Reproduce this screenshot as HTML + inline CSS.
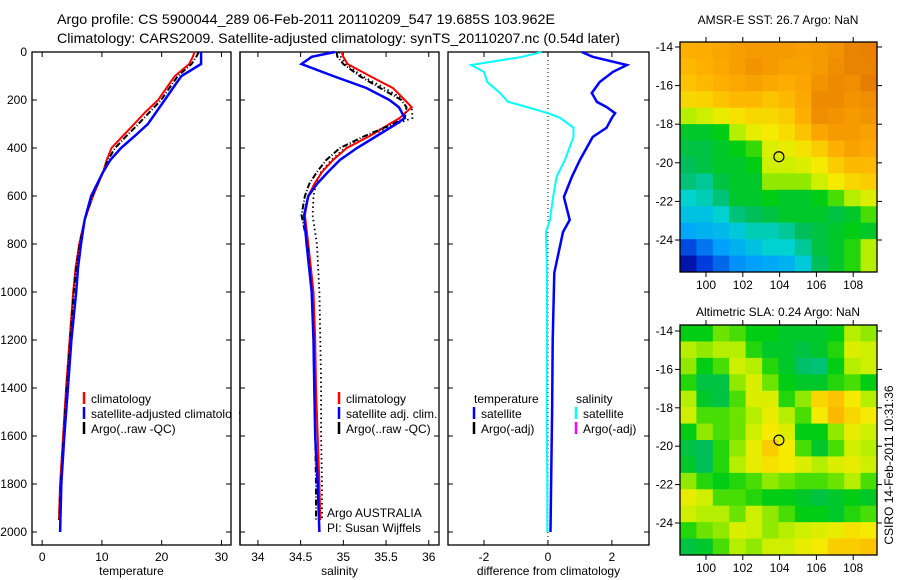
<!DOCTYPE html>
<html><head><meta charset="utf-8"><style>
html,body{margin:0;padding:0;background:#fff;}
svg{display:block;font-family:"Liberation Sans",sans-serif;}
</style></head><body>
<svg id="fig" width="900" height="580" viewBox="0 0 900 580" xmlns="http://www.w3.org/2000/svg">
<rect width="900" height="580" fill="#fff"/>
<text x="57" y="24" font-size="14" textLength="498" lengthAdjust="spacingAndGlyphs">Argo profile: CS 5900044_289 06-Feb-2011 20110209_547 19.685S 103.962E</text>
<text x="57" y="43" font-size="14" textLength="563" lengthAdjust="spacingAndGlyphs">Climatology: CARS2009. Satellite-adjusted climatology: synTS_20110207.nc (0.54d later)</text>
<text x="778" y="24" font-size="12" text-anchor="middle">AMSR-E SST: 26.7 Argo: NaN</text>
<text x="778" y="316" font-size="12" text-anchor="middle">Altimetric SLA: 0.24 Argo: NaN</text>
<text transform="translate(893,465) rotate(-90)" font-size="12" text-anchor="middle">CSIRO 14-Feb-2011 10:31:36</text>
<g id="g"></g>
</svg>
<script>
// ---- data ----
const depths = [0,20,50,100,150,200,250,300,350,400,450,500,600,700,800,900,1000,1200,1400,1600,1800,1950];
const tempClim = [25.5,25.2,24.6,22.2,20.8,19.4,17.3,15.4,13.5,11.6,10.8,10.2,8.5,7.1,6.2,5.6,5.2,4.6,4.0,3.5,3.0,2.8];
const satDepths = [0,20,50,100,150,200,250,300,350,400,450,500,600,700,800,900,1000,1200,1400,1600,1800,2000];
const tempSat  = [26.6,26.6,26.6,23.3,21.9,20.5,19.1,17.7,15.5,13.2,11.4,10.2,8.2,7.1,6.5,6.0,5.7,4.9,4.3,3.7,3.2,3.0];
const tempArgo = [26.2,25.8,25.0,22.7,21.3,19.9,18.0,16.1,14.1,12.2,11.0,10.2,8.4,7.1,6.3,5.7,5.3,4.7,4.1,3.6,3.1,2.9];
const salDepths = [0,20,50,100,150,200,230,275,300,350,400,450,500,550,600,680,800,1000,1200,1400,1600,1800,1950];
const salSatDepths = [0,20,50,100,150,200,230,275,300,350,400,450,500,550,600,680,800,1000,1200,1400,1600,1800,2000];
const salClim = [34.98,35.0,35.05,35.31,35.58,35.72,35.80,35.66,35.54,35.31,35.04,34.88,34.75,34.66,34.59,34.55,34.59,34.65,34.67,34.68,34.70,34.72,34.73];
const salSat  = [34.90,34.63,34.51,34.88,35.27,35.54,35.65,35.72,35.62,35.39,35.16,34.96,34.82,34.69,34.59,34.54,34.57,34.63,34.65,34.66,34.67,34.70,34.72];
const salArgo = [34.92,34.93,35.0,35.19,35.43,35.68,35.74,35.72,35.58,35.25,34.96,34.80,34.69,34.60,34.55,34.51,34.58,34.63,34.65,34.66,34.67,34.68,34.68];
const salDot  = [34.95,34.97,35.03,35.22,35.48,35.72,35.80,35.81,35.62,35.30,35.02,34.86,34.74,34.68,34.65,34.64,34.69,34.72,34.73,34.74,34.74,34.75,34.75];
const diffDepths = [0,20,54,83,125,171,208,229,255,274,316,354,450,520,604,700,750,920,1200,1500,1800,2000];
const diffTempSat = [1.06,1.4,2.47,2.03,1.62,1.37,1.53,1.83,2.1,2.0,1.83,1.4,1.0,0.75,0.5,0.68,0.47,0.2,0.15,0.13,0.1,0.08];
const diffSalSat  = [-0.2,-0.8,-2.4,-2.0,-1.9,-1.5,-1.25,-0.66,0,0.38,0.8,0.8,0.53,0.27,0.16,0.06,-0.06,-0.03,-0.03,-0.04,-0.02,-0.02];
const depthTicks = [0,200,400,600,800,1000,1200,1400,1600,1800,2000];
const tempTicks = [0,10,20,30];
const salTicks = [34,34.5,35,35.5,36];
const salTickLabels = ["34","34.5","35","35.5","36"];
const diffTicks = [-2,0,2];
const lonTicks = [100,102,104,106,108];
const latTicks = [-14,-16,-18,-20,-22,-24];
const argoLon = 103.962, argoLat = -19.685;
const sstGrid = [
[.82,.83,.85,.87,.88,.88,.88,.87,.88,.90,.95,.96],
[.80,.82,.84,.87,.90,.88,.86,.86,.88,.92,.95,.95],
[.78,.80,.82,.84,.86,.84,.83,.85,.90,.93,.92,.97],
[.74,.75,.78,.80,.80,.78,.80,.84,.93,.93,.90,.92],
[.62,.64,.68,.72,.74,.74,.76,.82,.92,.90,.88,.90],
[.50,.50,.52,.62,.68,.70,.73,.78,.85,.88,.88,.86],
[.48,.48,.50,.52,.55,.66,.68,.72,.76,.82,.86,.84],
[.46,.48,.50,.50,.52,.64,.64,.66,.70,.76,.80,.80],
[.44,.42,.48,.50,.50,.60,.60,.60,.64,.70,.74,.76],
[.38,.40,.44,.50,.50,.52,.50,.50,.52,.56,.62,.66],
[.34,.34,.38,.44,.46,.48,.50,.50,.50,.48,.50,.56],
[.28,.30,.32,.36,.40,.40,.42,.46,.48,.50,.52,.50],
[.14,.20,.26,.30,.34,.38,.38,.42,.48,.50,.54,.62],
[.04,.12,.18,.24,.26,.28,.30,.36,.46,.50,.54,.62]];
const slaGrid = [
[.52,.52,.58,.56,.52,.52,.50,.50,.50,.52,.62,.60],
[.62,.60,.62,.62,.54,.50,.50,.48,.50,.54,.66,.64],
[.60,.52,.56,.64,.62,.54,.50,.45,.44,.52,.62,.64],
[.54,.48,.48,.60,.66,.58,.52,.50,.50,.54,.56,.52],
[.62,.50,.48,.56,.66,.66,.54,.60,.74,.78,.70,.62],
[.64,.56,.56,.58,.62,.68,.62,.56,.70,.80,.74,.70],
[.52,.60,.56,.58,.64,.70,.66,.52,.52,.60,.68,.64],
[.48,.46,.54,.60,.68,.76,.70,.56,.50,.56,.64,.62],
[.50,.46,.54,.62,.68,.72,.70,.66,.62,.66,.68,.64],
[.60,.54,.52,.54,.56,.60,.58,.56,.56,.58,.62,.56],
[.68,.64,.56,.56,.54,.52,.52,.50,.48,.50,.52,.50],
[.64,.62,.62,.58,.64,.60,.56,.52,.52,.50,.54,.56],
[.54,.58,.60,.66,.64,.60,.62,.64,.66,.68,.72,.70],
[.48,.50,.56,.62,.60,.64,.64,.68,.70,.76,.76,.78]];

// ---- helpers ----
const NS="http://www.w3.org/2000/svg";
const G=document.getElementById('g');
function mk(tag,attrs,parent){const e=document.createElementNS(NS,tag);for(const k in attrs)e.setAttribute(k,attrs[k]);(parent||G).appendChild(e);return e;}
const TOP=52,BOT=545;
const yD=d=>TOP+d*0.24;
const panels=[
 {x0:32,x1:231,vmin:-1.7,vmax:31.6,name:'temperature'},
 {x0:240,x1:439,vmin:33.79,vmax:36.12,name:'salinity'},
 {x0:448,x1:649,vmin:-3.125,vmax:3.16,name:'difference'}];
function xf(p){return v=>p.x0+(v-p.vmin)/(p.vmax-p.vmin)*(p.x1-p.x0);}
function line(xs,ds,fx,color,w,dash,name){
  const pts=xs.map((v,i)=>fx(v).toFixed(1)+','+yD(ds[i]).toFixed(1)).join(' ');
  const e=mk('polyline',{points:pts,fill:'none',stroke:color,'stroke-width':w});
  if(dash)e.setAttribute('stroke-dasharray',dash);
  
  
}
function frame(p,ticks,labels,xlabel,i){
  const fx=xf(p);
  const r=mk('rect',{x:p.x0,y:TOP,width:p.x1-p.x0,height:BOT-TOP,fill:'#fff',stroke:'#000','stroke-width':1.3});
  
  
  ticks.forEach((t,k)=>{const x=fx(t);
    mk('line',{x1:x,x2:x,y1:BOT,y2:BOT-5,stroke:'#000'});
    mk('line',{x1:x,x2:x,y1:TOP,y2:TOP+5,stroke:'#000'});
    const tx=mk('text',{x:x,y:BOT+16,'font-size':12,'text-anchor':'middle'});tx.textContent=labels[k];
    
    
  });
  depthTicks.forEach(d=>{const y=yD(d);
    mk('line',{x1:p.x0,x2:p.x0+5,y1:y,y2:y,stroke:'#000'});
    mk('line',{x1:p.x1,x2:p.x1-5,y1:y,y2:y,stroke:'#000'});
    if(i===0){const t=mk('text',{x:27,y:y+4,'font-size':12,'text-anchor':'end'});t.textContent=d;
      
      }
  });
  const xl=mk('text',{x:(p.x0+p.x1)/2,y:575,'font-size':12,'text-anchor':'middle'});xl.textContent=xlabel;
  
  
  return fx;
}
function legend(entries,x,y){
  entries.forEach((en,k)=>{const yy=y+k*15;
    if(en.c){const b=mk('line',{x1:x,x2:x,y1:yy-6,y2:yy+6,stroke:en.c,'stroke-width':2.5});
      
      }
    const t=mk('text',{x:x+(en.c?7:0),y:yy+5,'font-size':12});t.textContent=en.t;
    
    
  });
}
// panel 1
let f=frame(panels[0],tempTicks,tempTicks.map(String),'temperature',0);
line(tempClim,depths,f,'#f00',2,null,'temp-climatology-line');
line(tempArgo,depths,f,'#000',2,'6,2,1,2','temp-argo-line');
line(tempSat,satDepths,f,'#00f',2.5,null,'temp-satellite-line');
legend([{c:'#f00',t:'climatology'},{c:'#00f',t:'satellite-adjusted climatology'},{c:'#000',t:'Argo(..raw -QC)'}],84,398);
// panel 2
f=frame(panels[1],salTicks,salTickLabels,'salinity',1);
line(salDot,salDepths,f,'#000',1.8,'1.5,3','sal-argo-dotted-line');
line(salClim,salDepths,f,'#f00',2,null,'sal-climatology-line');
line(salArgo,salDepths,f,'#000',2,'6,2,1,2','sal-argo-line');
line(salSat,salSatDepths,f,'#00f',2.5,null,'sal-satellite-line');
legend([{c:'#f00',t:'climatology'},{c:'#00f',t:'satellite adj. clim.'},{c:'#000',t:'Argo(..raw -QC)'}],339,398);
legend([{t:'Argo AUSTRALIA'},{t:'PI: Susan Wijffels'}],327,512);
// panel 3
f=frame(panels[2],diffTicks,diffTicks.map(String),'difference from climatology',2);
mk('line',{x1:f(0),x2:f(0),y1:TOP,y2:BOT,stroke:'#000','stroke-dasharray':'1,3'});
line(diffSalSat,diffDepths,f,'#0ff',2,null,'diff-salinity-satellite-line');
line(diffTempSat,diffDepths,f,'#00f',2.5,null,'diff-temperature-satellite-line');
legend([{t:'temperature'},{c:'#00f',t:'satellite'},{c:'#000',t:'Argo(-adj)'}],474,398);
legend([{t:'salinity'},{c:'#0ff',t:'satellite'},{c:'#f0f',t:'Argo(-adj)'}],576,398);
mk('rect',{x:232,y:395,width:7,height:45,fill:'#fff'});
mk('line',{x1:240,x2:240,y1:TOP,y2:BOT,stroke:'#000','stroke-width':1.3});

// ---- maps ----
const stops=[[0,[0,0,140]],[0.12,[0,60,220]],[0.26,[0,160,255]],[0.38,[0,210,210]],[0.46,[0,190,90]],[0.52,[0,205,20]],[0.57,[90,225,0]],[0.63,[200,240,0]],[0.7,[245,235,0]],[0.82,[255,175,0]],[1,[225,115,0]]];
function cmap(v){for(let i=1;i<stops.length;i++){if(v<=stops[i][0]){const a=stops[i-1],b=stops[i],t=(v-a[0])/(b[0]-a[0]);
  return 'rgb('+a[1].map((c,k)=>Math.round(c+(b[1][k]-c)*t)).join(',')+')';}}return 'rgb(225,115,0)';}
function drawMap(grid,x0,y0,x1,y1,latTop,degPx,name){
  const lonX=lo=>706+(lo-100)*18.4;
  const latY=la=>latTop+(-14-la)*degPx;
  const rows=grid.length,cols=grid[0].length,cw=(x1-x0)/cols,ch=(y1-y0)/rows;
  grid.forEach((row,r)=>row.forEach((v,c)=>{
    const e=mk('rect',{x:(x0+c*cw).toFixed(2),y:(y0+r*ch).toFixed(2),width:(cw+0.5).toFixed(2),height:(ch+0.5).toFixed(2),fill:cmap(v)});
    
    
  }));
  const fr=mk('rect',{x:x0,y:y0,width:x1-x0,height:y1-y0,fill:'none',stroke:'#000','stroke-width':1.3});
  
  
  lonTicks.forEach(lo=>{const x=lonX(lo);
    mk('line',{x1:x,x2:x,y1:y1,y2:y1+5,stroke:'#000'});
    mk('line',{x1:x,x2:x,y1:y0,y2:y0-5,stroke:'#000'});
    const t=mk('text',{x:x,y:y1+17,'font-size':12,'text-anchor':'middle'});t.textContent=lo;
    
    
  });
  latTicks.forEach(la=>{const y=latY(la);
    mk('line',{x1:x0,x2:x0-5,y1:y,y2:y,stroke:'#000'});
    mk('line',{x1:x1,x2:x1+5,y1:y,y2:y,stroke:'#000'});
    const t=mk('text',{x:x0-7,y:y+4,'font-size':12,'text-anchor':'end'});t.textContent=la;
    
    
  });
  const c=mk('circle',{cx:lonX(argoLon),cy:latY(argoLat),r:5,fill:'none',stroke:'#000','stroke-width':1.2});
  
  
}
drawMap(sstGrid,680,42,877,272,47,19.3,'sst-map');
drawMap(slaGrid,680,325,877,555,331,19.2,'sla-map');
</script>
</body></html>
